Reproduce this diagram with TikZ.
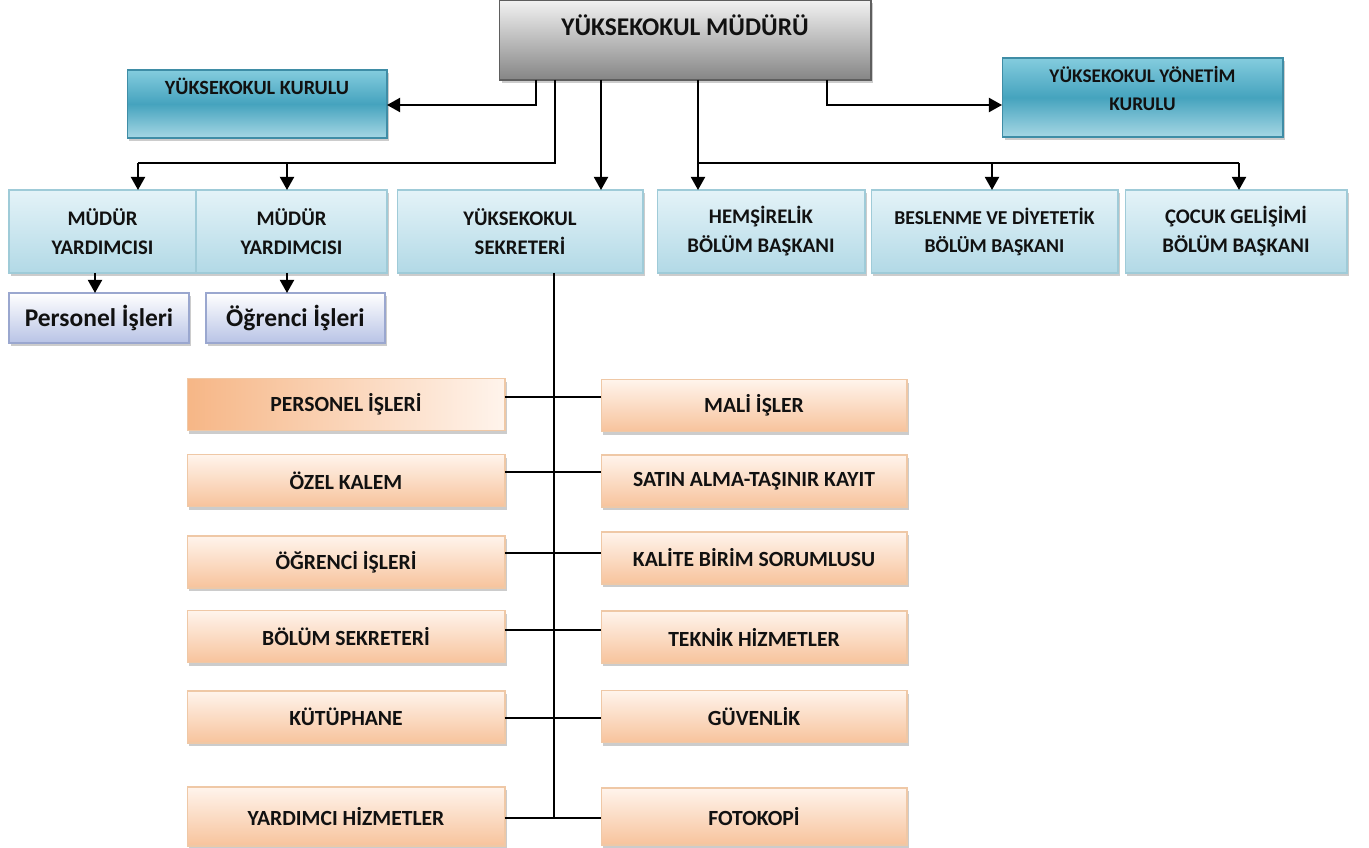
\documentclass[tikz,border=0pt]{standalone}
\usepackage{fontspec}
\setmainfont{Carlito}
\usetikzlibrary{arrows.meta,shadows}
\definecolor{InkBlack}{HTML}{111111}
\definecolor{HeadTop}{HTML}{F2F2F2}
\definecolor{HeadBottom}{HTML}{858585}
\definecolor{HeadLine}{HTML}{5E5E5E}
\definecolor{BoardTop}{HTML}{84CCDE}
\definecolor{BoardMid}{HTML}{45A3BE}
\definecolor{BoardBottom}{HTML}{A6D7E4}
\definecolor{BoardLine}{HTML}{3F8DA6}
\definecolor{UnitTop}{HTML}{E4F3F8}
\definecolor{UnitBottom}{HTML}{B2D9E6}
\definecolor{UnitLine}{HTML}{9FCBD8}
\definecolor{SubTop}{HTML}{FFFFFF}
\definecolor{SubBottom}{HTML}{B8C3E6}
\definecolor{SubLine}{HTML}{9AA7CF}
\definecolor{OfficeTop}{HTML}{FFF4EC}
\definecolor{OfficeBottom}{HTML}{F7C39C}
\definecolor{OfficeLine}{HTML}{EFC8A6}
\definecolor{OfficeDeep}{HTML}{F6B686}

\begin{document}
\begin{tikzpicture}[x=0.02cm, y=-0.02cm]
  \tikzset{BoxStyle/.style = {
  shape = rectangle,
  inner sep = 0pt,
  outer sep = 0pt,
  text = InkBlack,
  line width = 0.6pt,
  drop shadow = {shadow xshift=1.4pt, shadow yshift=-1.8pt, opacity=0.4}},
  HeadStyle/.style = {BoxStyle,
  top color = HeadTop, bottom color = HeadBottom, draw = HeadLine,
  font = \fontsize{14.5}{17}\selectfont\bfseries,
  text height = 10pt, text depth = 15.6pt},
  BoardStyle/.style = {BoxStyle, align = center,
  top color = BoardTop, bottom color = BoardBottom, middle color = BoardMid,
  draw = BoardLine,
  font = \fontsize{11.5}{16}\selectfont\bfseries},
  UnitStyle/.style = {BoxStyle, align = center,
  top color = UnitTop, bottom color = UnitBottom, draw = UnitLine,
  minimum height = 1.66cm,
  font = \fontsize{11.8}{16.5}\selectfont\bfseries},
  SubStyle/.style = {BoxStyle,
  top color = SubTop, bottom color = SubBottom, draw = SubLine,
  minimum height = 1cm,
  font = \fontsize{14.5}{16}\selectfont\bfseries},
  OfficeStyle/.style = {BoxStyle,
  top color = OfficeTop, bottom color = OfficeBottom, draw = OfficeLine,
  minimum height = 1.04cm,
  font = \fontsize{12.3}{14}\selectfont\bfseries},
  MainLine/.style = {line width = 1.3pt},
  ArrowStyle/.style = {MainLine, -{Triangle[width=8pt,length=7.5pt]}},
  LinkStyle/.style = {line width = 1pt}}
  \useasboundingbox (0,0) rectangle (1369,848);

  \node[HeadStyle, minimum width=7.44cm, minimum height=1.6cm] (mudur) at (685,40) {YÜKSEKOKUL MÜDÜRÜ};
  \node[BoardStyle, minimum width=5.2cm, minimum height=1.36cm,
    text height=8pt, text depth=19pt] (kurulu) at (257,104) {YÜKSEKOKUL KURULU};
  \node[BoardStyle, minimum width=5.62cm, minimum height=1.58cm, font=\fontsize{11}{16}\selectfont\bfseries,
    text height=25pt, text depth=10pt] (yonetim) at (1142.5,97.5) {YÜKSEKOKUL YÖNETİM\\KURULU};

  \node[UnitStyle, minimum width=3.74cm] (yard1) at (102.5,231.5) {MÜDÜR\\YARDIMCISI};
  \node[UnitStyle, minimum width=3.82cm] (yard2) at (291.5,231.5) {MÜDÜR\\YARDIMCISI};
  \node[UnitStyle, minimum width=4.92cm] (sekreter) at (520,231.5) {YÜKSEKOKUL\\SEKRETERİ};
  \node[UnitStyle, minimum width=4.16cm] (hemsire) at (761,231.5) {HEMŞİRELİK\\BÖLÜM BAŞKANI};
  \node[UnitStyle, minimum width=4.94cm, font=\fontsize{11.2}{16}\selectfont\bfseries] (beslenme) at (994.5,231.5) {BESLENME VE DİYETETİK\\BÖLÜM BAŞKANI};
  \node[UnitStyle, minimum width=4.44cm] (cocuk) at (1236,231.5) {ÇOCUK GELİŞİMİ\\BÖLÜM BAŞKANI};

  \node[SubStyle, minimum width=3.6cm] (persub) at (99,318) {Personel İşleri};
  \node[SubStyle, minimum width=3.58cm] (ogrsub) at (295.5,318) {Öğrenci İşleri};

  \node[OfficeStyle, minimum width=6.36cm, left color=OfficeDeep, right color=OfficeTop] (ofL1) at (346,404.5) {PERSONEL İŞLERİ};
  \node[OfficeStyle, minimum width=6.12cm] (ofR1) at (754,405.5) {MALİ İŞLER};
  \node[OfficeStyle, minimum width=6.36cm] (ofL2) at (346,480.5) {ÖZEL KALEM};
  \node[OfficeStyle, minimum width=6.12cm] (ofR2) at (754,481) {SATIN ALMA-TAŞINIR KAYIT};
  \node[OfficeStyle, minimum width=6.36cm] (ofL3) at (346,562) {ÖĞRENCİ İŞLERİ};
  \node[OfficeStyle, minimum width=6.12cm] (ofR3) at (754,558) {KALİTE BİRİM SORUMLUSU};
  \node[OfficeStyle, minimum width=6.36cm] (ofL4) at (346,636.5) {BÖLÜM SEKRETERİ};
  \node[OfficeStyle, minimum width=6.12cm] (ofR4) at (754,637) {TEKNİK HİZMETLER};
  \node[OfficeStyle, minimum width=6.36cm] (ofL5) at (346,717) {KÜTÜPHANE};
  \node[OfficeStyle, minimum width=6.12cm] (ofR5) at (754,716.5) {GÜVENLİK};
  \node[OfficeStyle, minimum width=6.36cm, minimum height=1.18cm] (ofL6) at (346,816.5) {YARDIMCI HİZMETLER};
  \node[OfficeStyle, minimum width=6.12cm, minimum height=1.14cm] (ofR6) at (754,816.5) {FOTOKOPİ};

  \coordinate (kurA) at (536,105);
  \coordinate (yonA) at (827,105);
  \coordinate (yardJ) at (555,163);
  \coordinate (yardA) at (138,163);
  \coordinate (yardB) at (287,163);
  \coordinate (sekA) at (601,163);
  \coordinate (bolJ) at (698,163);
  \coordinate (bolB) at (992,163);
  \coordinate (bolC) at (1239,163);
  \coordinate (subA) at (95,283);
  \coordinate (subB) at (287,283);
  \coordinate (spine) at (554,818);
  \coordinate (lineA) at (554,397);
  \coordinate (lineB) at (554,472);
  \coordinate (lineC) at (554,553);
  \coordinate (lineD) at (554,630);
  \coordinate (lineE) at (554,718);

  \draw[ArrowStyle] (mudur.south -| kurA) -- (kurA) -- (kurulu.east |- kurA);
  \draw[ArrowStyle] (mudur.south -| yonA) -- (yonA) -- (yonetim.west |- yonA);
  \draw[MainLine] (mudur.south -| yardJ) -- (yardJ) -- (yardA);
  \draw[ArrowStyle] (yardA) -- (yard1.north -| yardA);
  \draw[ArrowStyle] (yardB) -- (yard2.north -| yardB);
  \draw[ArrowStyle] (mudur.south -| sekA) -- (sekreter.north -| sekA);
  \draw[ArrowStyle] (mudur.south -| bolJ) -- (hemsire.north -| bolJ);
  \draw[MainLine] (bolJ) -- (bolC);
  \draw[ArrowStyle] (bolB) -- (beslenme.north -| bolB);
  \draw[ArrowStyle] (bolC) -- (cocuk.north -| bolC);
  \draw[ArrowStyle] (yard1.south -| subA) -- (persub.north -| subA);
  \draw[ArrowStyle] (yard2.south -| subB) -- (ogrsub.north -| subB);

  \draw[LinkStyle] (sekreter.south -| spine) -- (spine);
  \draw[LinkStyle] (ofL1.east |- lineA) -- (ofR1.west |- lineA);
  \draw[LinkStyle] (ofL2.east |- lineB) -- (ofR2.west |- lineB);
  \draw[LinkStyle] (ofL3.east |- lineC) -- (ofR3.west |- lineC);
  \draw[LinkStyle] (ofL4.east |- lineD) -- (ofR4.west |- lineD);
  \draw[LinkStyle] (ofL5.east |- lineE) -- (ofR5.west |- lineE);
  \draw[LinkStyle] (ofL6.east |- spine) -- (ofR6.west |- spine);
\end{tikzpicture}
\end{document}
